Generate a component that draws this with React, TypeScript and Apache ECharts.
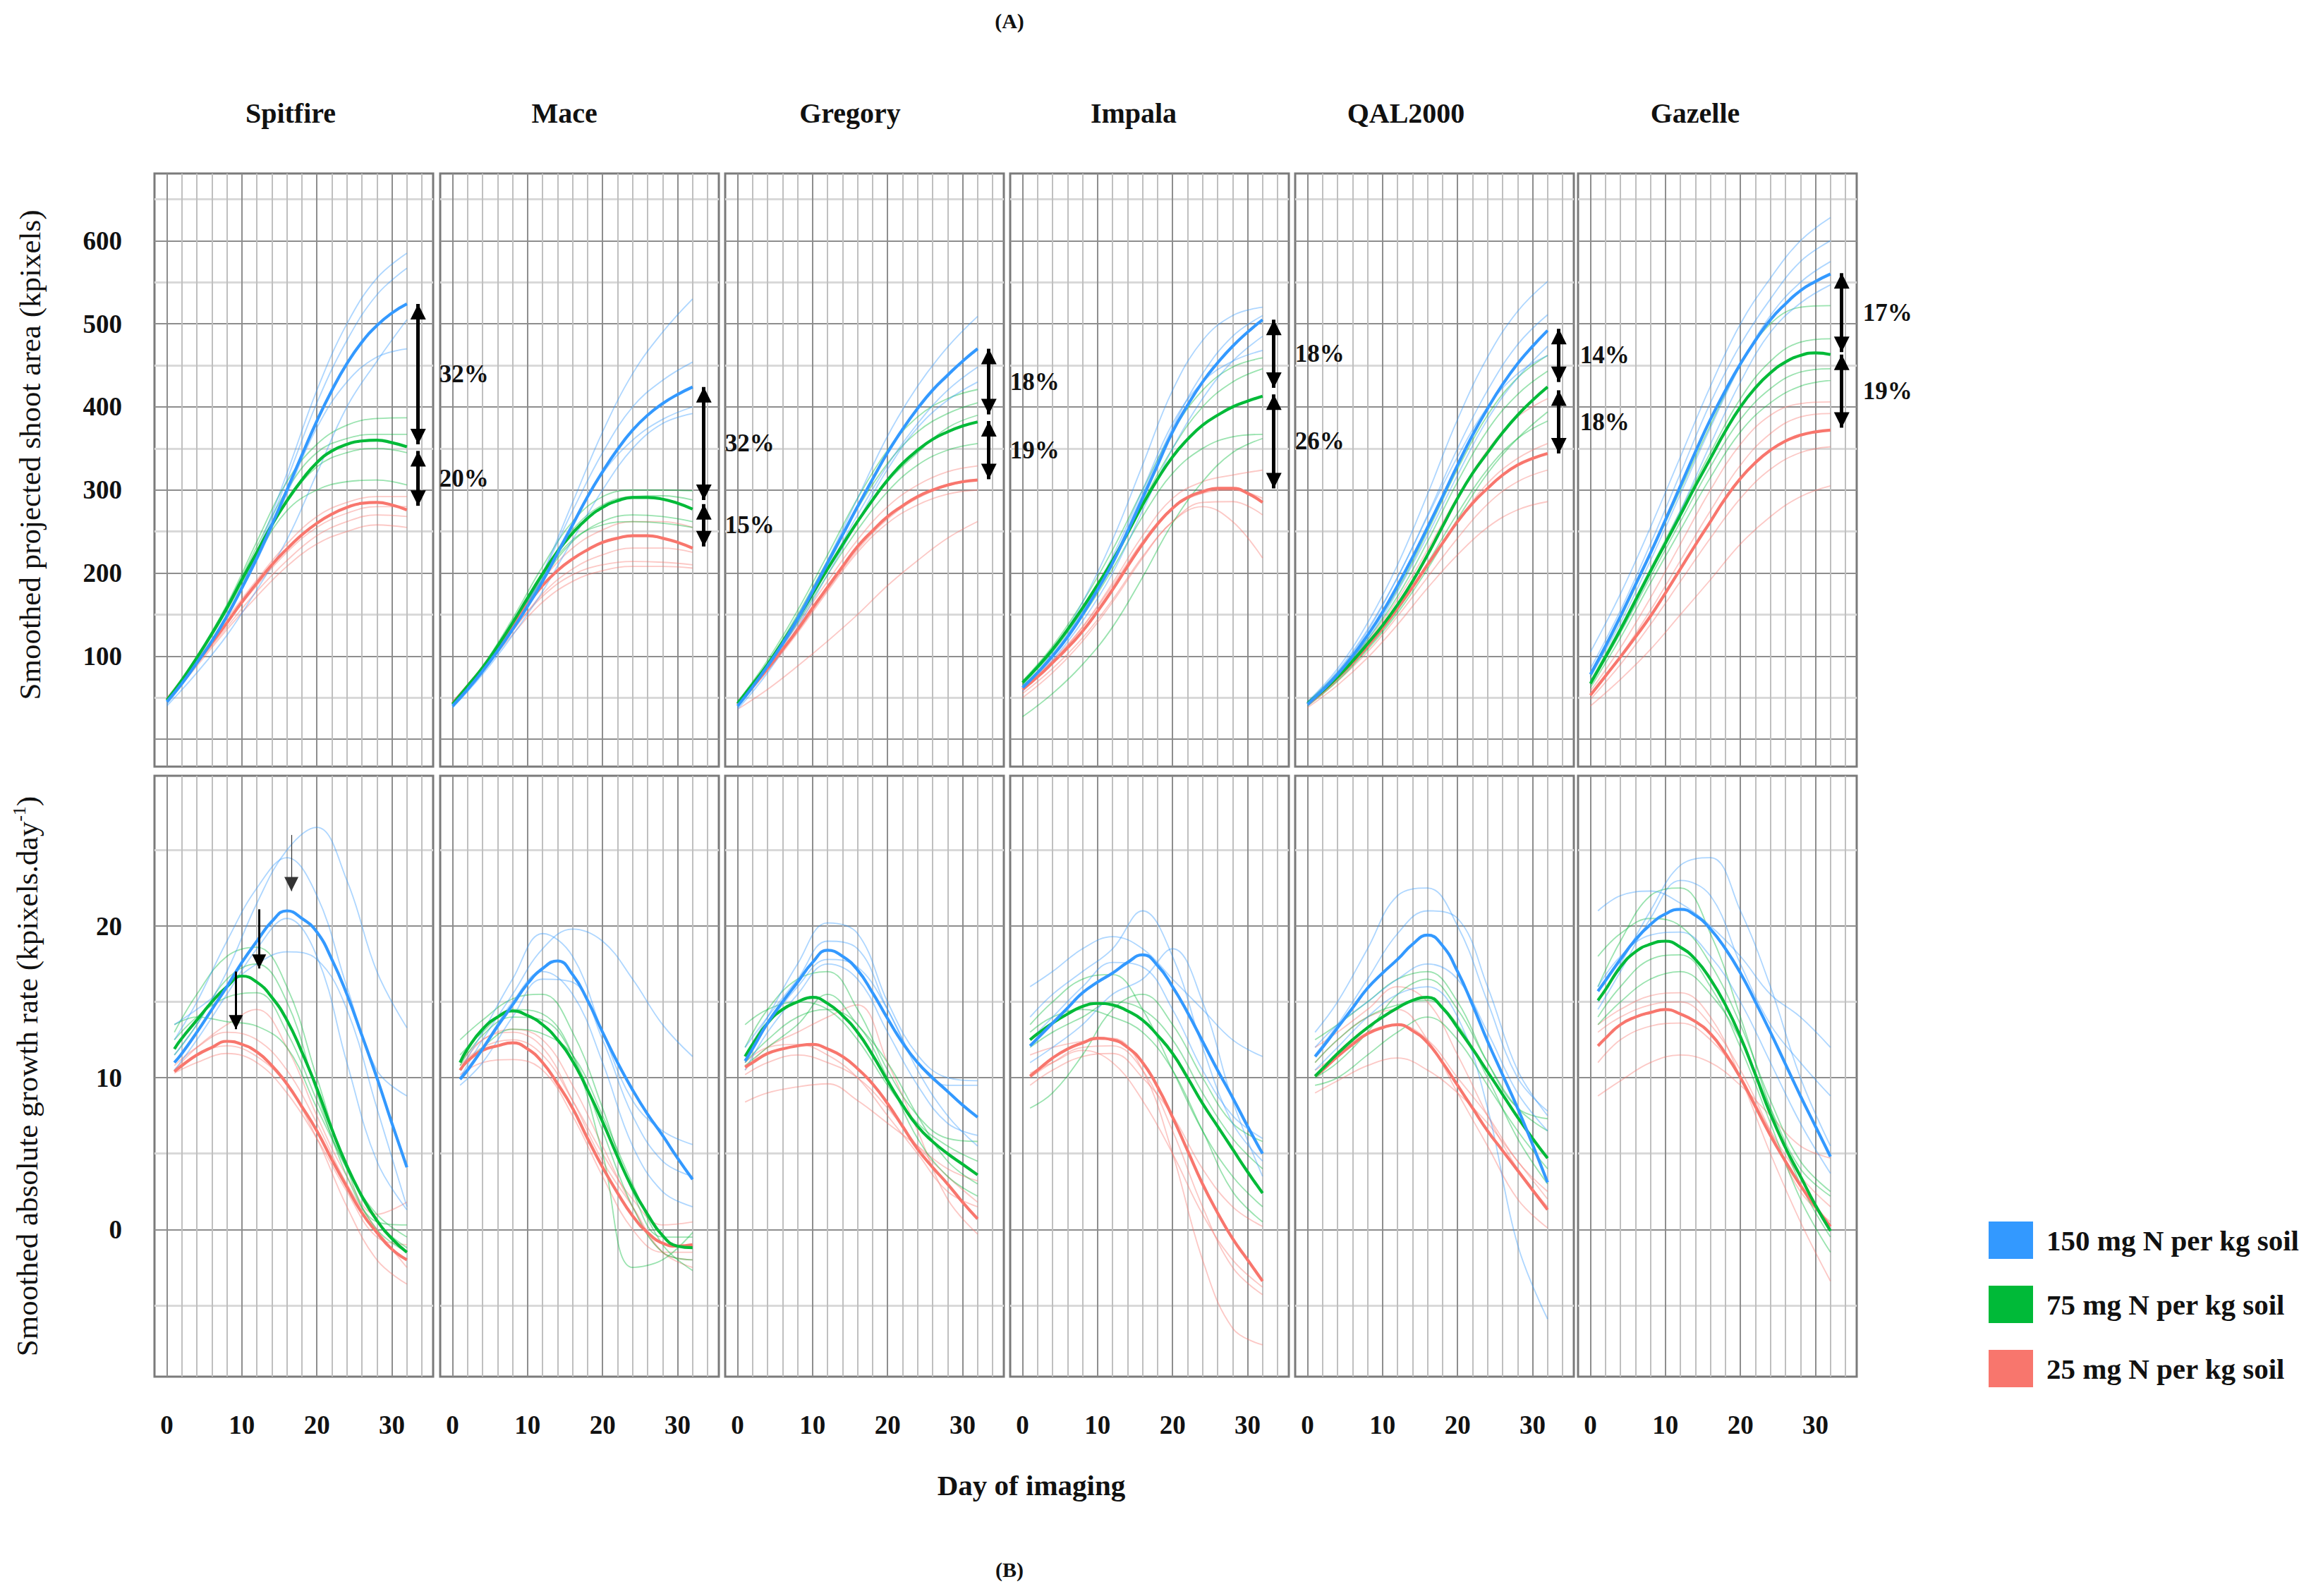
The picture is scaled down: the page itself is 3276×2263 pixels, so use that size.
import React, { useEffect, useRef } from "react";
import * as echarts from "echarts";

// ---------------- data ----------------
const CULTIVARS = ["Spitfire", "Mace", "Gregory", "Impala", "QAL2000", "Gazelle"];
const TREATMENTS = ["150 mg N per kg soil", "75 mg N per kg soil", "25 mg N per kg soil"];
// days at which the treatment means are read
const AREA_MEAN_DAYS = [0, 2, 4, 6, 8, 10, 12, 14, 16, 18, 20, 22, 24, 26, 28, 30, 32];
const RATE_MEAN_DAYS = [1, 2, 4, 6, 8, 10, 12, 14, 16, 18, 20, 22, 24, 26, 28, 30, 32];
// days at which the individual plant curves are read
const AREA_DAYS = [0, 4, 8, 12, 16, 20, 24, 28, 32];
const RATE_DAYS = [1, 4, 8, 12, 16, 20, 24, 28, 32];
const DAY_TICKS = [0, 10, 20, 30];
const AREA_TICKS = [100, 200, 300, 400, 500, 600];
const RATE_TICKS = [0, 10, 20];
const DAY_GRID_MAJOR = [0, 10, 20, 30];
const DAY_GRID_MINOR = [2, 4, 6, 8, 12, 14, 16, 18, 22, 24, 26, 28, 32, 34];
const AREA_GRID_MAJOR = [0, 100, 200, 300, 400, 500, 600];
const AREA_GRID_MINOR = [50, 150, 250, 350, 450, 550, 650];
const RATE_GRID_MAJOR = [0, 10, 20];
const RATE_GRID_MINOR = [-5, 5, 15, 25];

// Smoothed projected shoot area (kpixels): means for [150, 75, 25]
const SPITFIRE_AREA_MEAN = [
  [45, 67, 92, 118, 148, 182, 218, 258, 300, 342, 383, 420, 452, 478, 498, 513, 524],
  [47, 71, 98, 127, 158, 192, 225, 258, 287, 312, 333, 347, 355, 359, 360, 357, 352],
  [47, 68, 92, 116, 140, 165, 188, 210, 229, 246, 260, 271, 279, 284, 285, 282, 276],
];
const SPITFIRE_AREA_REPS = [
  [[42, 90, 148, 225, 320, 420, 500, 555, 585], [45, 92, 150, 222, 312, 405, 480, 535, 567], [40, 80, 125, 180, 240, 320, 400, 455, 505], [45, 92, 148, 215, 295, 375, 430, 460, 470]],
  [[48, 100, 162, 238, 310, 355, 378, 386, 387], [47, 99, 160, 232, 300, 345, 362, 367, 367], [46, 96, 155, 225, 285, 328, 345, 350, 345], [47, 97, 155, 220, 275, 300, 310, 312, 306]],
  [[50, 95, 145, 192, 235, 268, 285, 292, 292], [48, 92, 140, 185, 225, 255, 272, 280, 280], [46, 90, 135, 178, 215, 245, 262, 270, 268], [45, 88, 132, 172, 208, 235, 250, 258, 255]],
];
const MACE_AREA_MEAN = [
  [40, 60, 82, 106, 132, 160, 190, 224, 258, 292, 322, 349, 372, 390, 404, 415, 424],
  [42, 64, 86, 112, 140, 170, 199, 226, 248, 266, 279, 287, 291, 291, 289, 284, 277],
  [43, 64, 85, 110, 137, 162, 185, 203, 217, 228, 237, 242, 245, 245, 242, 237, 230],
];
const MACE_AREA_REPS = [
  [[38, 80, 132, 200, 285, 370, 440, 490, 530], [40, 84, 138, 200, 275, 345, 400, 432, 454], [42, 85, 138, 195, 260, 320, 360, 385, 400], [38, 78, 125, 178, 240, 300, 350, 380, 392]],
  [[43, 88, 145, 208, 262, 292, 300, 300, 299], [42, 86, 140, 200, 252, 282, 292, 293, 288], [41, 84, 136, 192, 238, 262, 270, 268, 262], [42, 85, 138, 195, 240, 258, 262, 260, 255]],
  [[45, 88, 140, 192, 230, 252, 262, 262, 255], [44, 86, 132, 172, 198, 210, 214, 213, 210], [42, 82, 126, 165, 190, 203, 208, 208, 206], [43, 84, 130, 175, 205, 222, 230, 230, 225]],
];
const GREGORY_AREA_MEAN = [
  [40, 63, 88, 115, 145, 178, 212, 246, 280, 313, 345, 373, 398, 420, 438, 455, 470],
  [43, 66, 90, 117, 145, 175, 205, 234, 262, 288, 312, 332, 348, 361, 370, 377, 382],
  [42, 63, 85, 108, 132, 158, 183, 208, 232, 251, 268, 281, 292, 300, 306, 310, 312],
];
const GREGORY_AREA_REPS = [
  [[38, 86, 145, 215, 290, 365, 425, 472, 509], [40, 85, 140, 205, 270, 330, 380, 420, 448], [42, 90, 148, 215, 282, 345, 400, 440, 470], [36, 80, 135, 198, 262, 325, 375, 408, 430]],
  [[45, 95, 155, 222, 290, 348, 388, 410, 421], [44, 92, 150, 215, 278, 332, 370, 392, 405], [42, 88, 140, 198, 252, 298, 330, 348, 356], [43, 90, 145, 205, 262, 310, 345, 375, 390]],
  [[42, 88, 138, 190, 240, 280, 306, 322, 329], [40, 82, 128, 178, 225, 260, 282, 295, 300], [36, 60, 88, 118, 150, 185, 215, 242, 262], [41, 84, 130, 180, 228, 265, 290, 305, 312]],
];
const IMPALA_AREA_MEAN = [
  [62, 80, 100, 123, 150, 180, 212, 250, 290, 330, 370, 402, 430, 453, 473, 490, 505],
  [68, 87, 108, 132, 158, 186, 215, 248, 282, 313, 340, 361, 378, 390, 400, 407, 413],
  [60, 75, 92, 110, 130, 154, 180, 208, 235, 259, 278, 291, 298, 302, 302, 296, 285],
];
const IMPALA_AREA_REPS = [
  [[60, 105, 165, 240, 330, 420, 480, 510, 520], [62, 100, 150, 215, 295, 375, 440, 485, 510], [58, 95, 142, 200, 275, 350, 410, 455, 485], [64, 102, 155, 220, 300, 380, 430, 455, 468]],
  [[70, 112, 165, 228, 300, 370, 420, 448, 459], [66, 105, 155, 215, 285, 350, 400, 430, 446], [64, 100, 148, 205, 268, 320, 350, 364, 367], [27, 55, 90, 135, 195, 260, 310, 345, 362]],
  [[58, 92, 135, 188, 245, 290, 310, 318, 324], [55, 85, 122, 168, 220, 262, 285, 286, 270], [50, 80, 118, 165, 218, 262, 280, 262, 218], [62, 95, 135, 185, 238, 278, 296, 300, 290]],
];
const QAL2000_AREA_MEAN = [
  [42, 59, 78, 100, 125, 153, 185, 219, 255, 292, 330, 366, 398, 427, 452, 473, 492],
  [43, 58, 75, 94, 115, 137, 162, 190, 222, 256, 290, 320, 345, 369, 390, 408, 424],
  [42, 57, 74, 92, 112, 134, 158, 183, 210, 236, 262, 284, 302, 318, 330, 338, 344],
];
const QAL2000_AREA_REPS = [
  [[45, 85, 140, 210, 295, 385, 460, 515, 551], [42, 80, 130, 195, 270, 350, 420, 475, 511], [40, 75, 120, 178, 245, 318, 385, 435, 473], [44, 82, 132, 195, 268, 340, 400, 440, 462]],
  [[45, 80, 125, 180, 250, 325, 390, 435, 462], [44, 78, 120, 172, 238, 310, 372, 415, 443], [40, 70, 108, 152, 205, 265, 320, 362, 394], [42, 72, 110, 155, 212, 272, 325, 362, 383]],
  [[44, 78, 118, 168, 228, 292, 348, 388, 410], [42, 74, 112, 158, 210, 262, 308, 338, 356], [40, 70, 105, 148, 195, 242, 283, 310, 324], [38, 65, 98, 138, 182, 222, 255, 276, 286]],
];
const GAZELLE_AREA_MEAN = [
  [78, 112, 148, 186, 224, 264, 305, 346, 385, 420, 452, 480, 505, 524, 540, 551, 560],
  [67, 99, 132, 167, 202, 236, 270, 305, 338, 371, 400, 423, 441, 454, 462, 465, 463],
  [53, 76, 99, 123, 148, 176, 205, 234, 262, 290, 314, 333, 348, 359, 366, 370, 372],
];
const GAZELLE_AREA_REPS = [
  [[105, 175, 255, 340, 425, 500, 555, 600, 628], [85, 155, 235, 320, 405, 475, 530, 575, 600], [75, 140, 215, 295, 375, 450, 510, 550, 575], [70, 130, 200, 275, 355, 430, 490, 525, 547]],
  [[75, 145, 222, 300, 378, 450, 500, 520, 522], [70, 135, 205, 275, 345, 410, 455, 478, 482], [65, 128, 195, 262, 328, 385, 422, 442, 446], [62, 122, 188, 252, 315, 370, 405, 425, 432]],
  [[58, 110, 170, 235, 300, 355, 390, 404, 406], [52, 100, 155, 215, 275, 330, 368, 388, 392], [48, 90, 138, 190, 242, 290, 325, 345, 352], [40, 72, 108, 150, 192, 235, 268, 292, 305]],
];

// Smoothed absolute growth rate (kpixels.day-1)
const SPITFIRE_RATE_MEAN = [
  [11.0, 11.6, 13.0, 14.5, 16.0, 17.6, 19.0, 20.3, 21.0, 20.5, 19.6, 17.8, 15.5, 12.8, 10.0, 7.0, 4.1],
  [11.9, 12.6, 13.8, 15.0, 16.0, 16.7, 16.3, 15.3, 13.8, 11.7, 9.3, 6.6, 4.2, 2.2, 0.6, -0.6, -1.5],
  [10.4, 10.8, 11.5, 12.0, 12.4, 12.2, 11.7, 10.8, 9.6, 8.1, 6.5, 4.6, 2.8, 1.1, -0.2, -1.3, -2.0],
];
const SPITFIRE_RATE_REPS = [
  [[11.5, 13.5, 17, 21.5, 25, 26.5, 23, 17, 13.3], [12.5, 15, 19, 22.5, 24.5, 22, 16, 10.5, 8.8], [10.5, 12.5, 15.5, 18.5, 20.5, 18, 11, 4.5, 1.3], [13.5, 14.5, 16, 17.5, 18.3, 17.8, 14.5, 8, 1.5]],
  [[13, 15.5, 18, 18.6, 16, 10, 4, 0.5, 0.3], [12.5, 14, 15.3, 15.6, 13, 8.5, 4, 1, -0.5], [13.5, 14, 13.7, 13.4, 12, 8, 4, 0.5, -1.2], [11.5, 13.5, 16.5, 17.5, 15, 9, 3.5, 0, -1.5]],
  [[10.5, 12, 13.5, 14.5, 12, 7.5, 3.5, 1, 1.8], [10.3, 11, 11.6, 11, 9, 6, 2.5, -0.5, -1], [10.5, 11.5, 12.1, 11.4, 9.5, 6, 1.5, -2, -3.6], [10.8, 12, 13, 12.5, 10.5, 7, 3, 0, -2.5]],
];
const MACE_RATE_MEAN = [
  [9.9, 10.5, 11.9, 13.4, 14.8, 16.2, 17.2, 17.7, 16.8, 15.1, 13.0, 11.0, 9.2, 7.6, 6.2, 4.7, 3.3],
  [11.0, 11.9, 13.2, 14.0, 14.4, 14.1, 13.5, 12.5, 11.1, 9.2, 7.1, 4.8, 2.7, 1.0, -0.4, -1.1, -1.2],
  [10.5, 11.1, 11.8, 12.1, 12.3, 11.9, 11.0, 9.6, 8.0, 6.0, 4.1, 2.4, 0.9, -0.2, -0.9, -1.1, -1.0],
];
const MACE_RATE_REPS = [
  [[10, 12.5, 15.5, 18.5, 19.8, 19, 16.5, 13.5, 11.4], [10.5, 13, 16.5, 19.5, 18, 13, 8.5, 6.5, 5.6], [10, 12, 15, 17, 15.5, 11, 5.5, 2.5, 1.5], [9.5, 11, 14, 16.5, 16.3, 12.5, 7.5, 4.5, 3.5]],
  [[12.5, 13.8, 15.2, 15.5, 13, 8, 2.5, -0.5, -0.5], [11.5, 13, 14.5, 14.2, 11.5, 5, -2.5, -2, -0.2], [10.5, 12, 13.2, 12.9, 11.5, 7.5, 3, -1, -2.7], [10.8, 12.8, 14, 13.8, 11.5, 6.5, 1.5, -1.5, -2]],
  [[10.5, 12.5, 13, 12, 8.5, 4.5, 1.5, -1.5, -2.5], [10.2, 11, 11.2, 10.5, 7.5, 3.5, 0, -1.5, -1.5], [11, 12.5, 13.2, 12.5, 9.5, 5.5, 1.5, -1.5, -2], [10.8, 12, 12.5, 11.5, 8.5, 5, 2, 0.3, 0.5]],
];
const GREGORY_RATE_MEAN = [
  [11.1, 11.9, 13.6, 15.0, 16.3, 17.6, 18.4, 18.0, 17.1, 15.6, 13.9, 12.3, 11.0, 10.0, 9.1, 8.2, 7.4],
  [11.4, 12.2, 13.6, 14.5, 15.0, 15.3, 14.9, 14.1, 13.0, 11.5, 9.8, 8.2, 6.8, 5.8, 5.0, 4.3, 3.6],
  [10.7, 11.0, 11.6, 11.9, 12.1, 12.2, 11.9, 11.4, 10.6, 9.6, 8.3, 6.8, 5.3, 4.1, 3.0, 1.8, 0.7],
];
const GREGORY_RATE_REPS = [
  [[11.5, 14, 17.5, 20.2, 19.5, 15, 11.5, 10, 9.8], [12, 14, 16.5, 19, 18.5, 14.5, 11, 9.5, 9.5], [10.5, 13, 15.5, 17.5, 16.5, 13, 9.5, 7, 6.2], [11, 13.5, 16, 17.8, 17.3, 14.5, 10.5, 7.5, 5.5]],
  [[12, 14.5, 16.5, 17, 14.5, 10.5, 7.5, 6, 5.8], [13.5, 14.5, 15, 14.5, 12.5, 9.5, 7, 5.5, 4.5], [11, 12.5, 14, 14.5, 13.5, 10, 6, 3.5, 2.2], [10.8, 12, 13.5, 15.5, 13.5, 11, 7.5, 4.5, 3]],
  [[8.4, 9, 9.4, 9.6, 8.5, 7, 5.5, 4, 3.2], [10.5, 12, 13, 14, 14.8, 11, 6.5, 2, -0.3], [11, 12, 12.2, 11.5, 10, 7.5, 5, 2.5, 1.5], [10.2, 11, 11.5, 11, 10, 8, 5.5, 3.5, 1.8]],
];
const IMPALA_RATE_MEAN = [
  [12.1, 12.6, 13.6, 14.6, 15.6, 16.3, 16.9, 17.6, 18.1, 17.4, 16.0, 14.3, 12.4, 10.5, 8.7, 6.8, 5.0],
  [12.5, 12.9, 13.6, 14.2, 14.7, 14.9, 14.8, 14.4, 13.8, 12.8, 11.6, 10.0, 8.3, 6.8, 5.3, 3.8, 2.4],
  [10.1, 10.5, 11.3, 11.9, 12.3, 12.6, 12.5, 12.0, 11.0, 9.4, 7.4, 5.2, 3.0, 1.1, -0.6, -2.0, -3.4],
];
const IMPALA_RATE_REPS = [
  [[14, 15.5, 17, 18.5, 21, 18, 12, 7, 4.5], [16, 17, 18.5, 19.3, 18.5, 16.5, 14.5, 12.5, 11.4], [11, 12, 13.5, 15.5, 16.5, 18.5, 15, 8.5, 3.5], [12.5, 14, 16, 17.6, 17.3, 14.5, 10.5, 7.5, 6]],
  [[8, 9, 11.5, 14.5, 15.5, 13.5, 10, 7, 5.8], [13.5, 15, 16.5, 16.8, 14.5, 10.5, 6.5, 3.5, 1.5], [13, 14, 14.5, 14, 13, 10.5, 6.5, 2.5, 0.5], [12, 13, 14, 15, 14.5, 12.5, 9, 6, 4]],
  [[11.5, 12, 12.4, 12.6, 10.5, 5, -2, -6.5, -7.6], [10, 11, 12, 12.1, 10.5, 6.5, 1.5, -2.5, -4.3], [9.5, 10.5, 11.4, 11.6, 10, 7.5, 4, 1.5, 0.2], [10.3, 11, 11.8, 11, 8.5, 5, 1, -2, -3.8]],
];
const QAL2000_RATE_MEAN = [
  [11.4, 12.0, 13.3, 14.6, 15.9, 16.9, 17.8, 18.8, 19.4, 18.7, 17.0, 14.8, 12.4, 10.2, 8.0, 5.6, 3.1],
  [10.1, 10.6, 11.6, 12.5, 13.3, 14.0, 14.6, 15.1, 15.3, 14.6, 13.3, 11.9, 10.4, 8.9, 7.4, 6.0, 4.7],
  [10.1, 10.5, 11.4, 12.2, 12.9, 13.3, 13.5, 13.1, 12.3, 11.0, 9.5, 8.0, 6.5, 5.2, 3.9, 2.6, 1.3],
];
const QAL2000_RATE_REPS = [
  [[13, 15, 18.5, 22, 22.5, 20, 15, 10, 7.8], [11.5, 13.5, 16.5, 19.5, 21, 20.5, 16, 10.5, 7.5], [10.5, 12, 14, 15.5, 16, 14, 8, -1, -5.9], [12, 13.5, 15, 16.5, 17.5, 16.5, 13, 9, 6.5]],
  [[12.5, 13.5, 15, 16.5, 17, 15, 11, 8, 7.3], [10, 11, 13, 15.5, 16.5, 14.5, 11, 8, 6.5], [9.5, 10, 11.5, 13, 14, 12.5, 9.5, 6.5, 4], [11, 12.5, 14, 14.8, 15.1, 13.5, 10, 6, 3]],
  [[12, 13, 14.5, 16, 15, 11.5, 7.5, 4, 1.5], [9, 9.8, 10.8, 11.3, 10.5, 9, 7, 4.5, 2], [11, 12.5, 14, 14.5, 12.5, 9, 5.5, 2, 0.1], [10.5, 11.5, 13, 13.5, 12.5, 10, 7.5, 4.5, 2.5]],
];
const GAZELLE_RATE_MEAN = [
  [15.7, 16.4, 17.8, 19.1, 20.1, 20.8, 21.1, 20.7, 19.8, 18.5, 16.9, 15.0, 13.0, 10.9, 8.8, 6.8, 4.8],
  [15.1, 15.8, 17.3, 18.3, 18.8, 19.0, 18.6, 17.8, 16.5, 14.8, 12.7, 10.2, 7.6, 5.4, 3.5, 1.6, -0.1],
  [12.1, 12.6, 13.5, 14.0, 14.3, 14.5, 14.2, 13.7, 12.9, 11.6, 10.0, 8.1, 6.2, 4.5, 2.9, 1.5, 0.2],
];
const GAZELLE_RATE_REPS = [
  [[15, 17.5, 21, 24, 24.5, 21, 16, 10, 5.5], [21, 22, 22.3, 21.5, 20, 18, 15.5, 14, 12], [14.5, 17, 20.5, 23, 22, 17.5, 13.5, 11, 8.8], [16, 18, 19.4, 19.6, 18, 15, 11, 7, 3.7]],
  [[16, 19, 22, 22.5, 19.5, 14, 8, 3, -0.5], [18, 19.5, 20.5, 20, 17.5, 13.5, 8.5, 4.5, 2.5], [14, 16, 17.8, 18.1, 16, 12, 7, 2, -1.5], [13.5, 15, 16.5, 17, 15.5, 12.5, 8, 4, 2.2]],
  [[8.8, 9.8, 11, 11.5, 11, 9.5, 7.5, 5.5, 4.7], [13.5, 14.5, 15.4, 15.6, 14, 10, 5, 0.5, -3.4], [11, 12.5, 13.4, 13.6, 12.5, 10, 6.5, 3.5, 1.5], [13, 14, 14.8, 15, 13.5, 10.5, 6.5, 2.5, 0.5]],
];

// Double-headed arrows at day ARROW_DAY on the area panels: [from, to] in kpixels
const ARROW_DAY = 33.5;
const AREA_GAP_SPANS = [
  [[524, 355], [347, 281]],
  [[424, 288], [283, 232]],
  [[470, 391], [383, 313]],
  [[505, 423], [415, 302]],
  [[494, 430], [420, 344]],
  [[561, 466], [463, 375]],
];
const AREA_GAP_LABELS = [
  ["32%", "20%"],
  ["32%", "15%"],
  ["18%", "19%"],
  ["18%", "26%"],
  ["14%", "18%"],
  ["17%", "19%"],
];
// Peak arrows on Spitfire growth-rate panel: [day, from, to]
const PEAK_ARROWS = [
  [9.2, 17.0, 13.2],
  [12.3, 21.1, 17.2],
  [16.6, 26.0, 22.3],
];

const AREA_MEANS = [SPITFIRE_AREA_MEAN, MACE_AREA_MEAN, GREGORY_AREA_MEAN, IMPALA_AREA_MEAN, QAL2000_AREA_MEAN, GAZELLE_AREA_MEAN];
const AREA_REPS = [SPITFIRE_AREA_REPS, MACE_AREA_REPS, GREGORY_AREA_REPS, IMPALA_AREA_REPS, QAL2000_AREA_REPS, GAZELLE_AREA_REPS];
const RATE_MEANS = [SPITFIRE_RATE_MEAN, MACE_RATE_MEAN, GREGORY_RATE_MEAN, IMPALA_RATE_MEAN, QAL2000_RATE_MEAN, GAZELLE_RATE_MEAN];
const RATE_REPS = [SPITFIRE_RATE_REPS, MACE_RATE_REPS, GREGORY_RATE_REPS, IMPALA_RATE_REPS, QAL2000_RATE_REPS, GAZELLE_RATE_REPS];

// ---------------- layout & style ----------------
const W = 3276;
const H = 2263;
const FONT = '"Liberation Serif", "Times New Roman", serif';
const COLORS = ["#3399FF", "#00BA38", "#F8766D"];
const PANEL_LEFT = [219, 624, 1028, 1432, 1836, 2237];
const PANEL_WIDTH = 395;
const ROW_TOP = [246, 1100];
const ROW_HEIGHT = [841, 852];
const X_MIN = -1.65;
const X_MAX = 35.5;
const Y_RANGE = [[-33, 681], [-9.7, 29.9]];
const TITLE_X = [412, 800, 1205, 1607, 1993, 2403];
const MAJOR_LINE = "#8e8e8e";
const MINOR_X_LINE = "#bfbfbf";
const MINOR_Y_LINE = "#d9d9d9";

function pairs(days: number[], vals: number[]) {
  return vals.map((v, i) => [days[i], v]);
}

function buildOption() {
  const grid: any[] = [];
  const xAxis: any[] = [];
  const yAxis: any[] = [];
  const series: any[] = [];
  const tickText = { fontFamily: FONT, fontWeight: "bold", fontSize: 37, color: "#111" };

  for (let r = 0; r < 2; r++) {
    for (let c = 0; c < 6; c++) {
      const g = r * 6 + c;
      grid.push({
        left: PANEL_LEFT[c], top: ROW_TOP[r], width: PANEL_WIDTH, height: ROW_HEIGHT[r],
        show: true, borderColor: "#7a7a7a", borderWidth: 3, backgroundColor: "#fff",
        outerBoundsMode: "none",
      });
      xAxis.push({
        gridIndex: g, type: "value", position: "top", min: X_MIN, max: X_MAX,
        axisLine: { show: false }, axisTick: { show: false, customValues: DAY_GRID_MINOR },
        axisLabel: { show: false },
        splitLine: { show: true, lineStyle: { color: MINOR_X_LINE, width: 2 } },
      });
      xAxis.push({
        gridIndex: g, type: "value", position: "bottom", min: X_MIN, max: X_MAX,
        axisLine: { show: false }, axisTick: { show: false, customValues: DAY_GRID_MAJOR },
        axisLabel: r === 1 ? { show: true, customValues: DAY_TICKS, margin: 50, ...tickText } : { show: false },
        splitLine: { show: true, lineStyle: { color: MAJOR_LINE, width: 2 } },
      });
      const yMajor = r === 0 ? AREA_GRID_MAJOR : RATE_GRID_MAJOR;
      const yMinor = r === 0 ? AREA_GRID_MINOR : RATE_GRID_MINOR;
      const yLabels = r === 0 ? AREA_TICKS : RATE_TICKS;
      yAxis.push({
        gridIndex: g, type: "value", position: "right", min: Y_RANGE[r][0], max: Y_RANGE[r][1],
        axisLine: { show: false }, axisTick: { show: false, customValues: yMinor },
        axisLabel: { show: false },
        splitLine: { show: true, lineStyle: { color: MINOR_Y_LINE, width: 3 } },
      });
      yAxis.push({
        gridIndex: g, type: "value", position: "left", min: Y_RANGE[r][0], max: Y_RANGE[r][1],
        axisLine: { show: false }, axisTick: { show: false, customValues: yMajor },
        axisLabel: c === 0 ? { show: true, customValues: yLabels, margin: 46, ...tickText } : { show: false },
        splitLine: { show: true, lineStyle: { color: MAJOR_LINE, width: 2 } },
      });

      const repDays = r === 0 ? AREA_DAYS : RATE_DAYS;
      const meanDays = r === 0 ? AREA_MEAN_DAYS : RATE_MEAN_DAYS;
      const reps = r === 0 ? AREA_REPS[c] : RATE_REPS[c];
      const means = r === 0 ? AREA_MEANS[c] : RATE_MEANS[c];
      const axisIdx = 2 * g + 1;

      for (let t = 2; t >= 0; t--) {
        reps[t].forEach((rep: number[]) => {
          series.push({
            type: "line", name: TREATMENTS[t] + " plant", xAxisIndex: axisIdx, yAxisIndex: axisIdx,
            data: pairs(repDays, rep), smooth: 0.4, showSymbol: false, symbol: "none", silent: true, z: 2,
            lineStyle: { color: COLORS[t], width: 1.8, opacity: 0.4 },
          });
        });
      }
      for (let t = 2; t >= 0; t--) {
        const s: any = {
          type: "line", name: TREATMENTS[t], xAxisIndex: axisIdx, yAxisIndex: axisIdx,
          data: pairs(meanDays, means[t]), smooth: 0.5, showSymbol: false, symbol: "none", silent: true, z: 3,
          color: COLORS[t], itemStyle: { color: COLORS[t] },
          lineStyle: { color: COLORS[t], width: 4.2 },
        };
        if (t === 0 && r === 0) {
          s.markLine = {
            silent: true, symbol: ["triangle", "triangle"], symbolSize: 22,
            symbolOffset: [[0, 11], [0, 11]],
            label: { show: false },
            lineStyle: { color: "#000", width: 5, type: "solid" },
            data: AREA_GAP_SPANS[c].map(([a, b]) => [{ coord: [ARROW_DAY, a] }, { coord: [ARROW_DAY, b] }]),
          };
        }
        if (t === 0 && r === 1 && c === 0) {
          s.markLine = {
            silent: true, symbol: ["none", "triangle"], symbolSize: 20,
            symbolOffset: [[0, 0], [0, 10]],
            label: { show: false },
            lineStyle: { color: "#000", width: 3, type: "solid" },
            data: PEAK_ARROWS.map(([d, a, b], i) => [
              { coord: [d, a], lineStyle: i === 2 ? { width: 1.2, color: "#333" } : undefined },
              { coord: [d, b] },
            ]),
          };
        }
        series.push(s);
      }
    }
  }

  return {
    animation: false,
    backgroundColor: "#fff",
    textStyle: { fontFamily: FONT },
    grid, xAxis, yAxis, series,
    legend: {
      data: TREATMENTS, orient: "vertical", left: 2819, top: 1732,
      itemWidth: 63, itemHeight: 53, itemGap: 38, icon: "rect", selectedMode: false, padding: 0,
      textStyle: { fontFamily: FONT, fontWeight: "bold", fontSize: 41, color: "#111", padding: [0, 0, 0, 14] },
    },
  };
}

function textEl(x: number, y: number, text: string, font: string) {
  return {
    type: "text", x, y, silent: true,
    style: { text, font, fill: "#111", align: "center", verticalAlign: "middle" },
  };
}

function buildGraphics(chart: any) {
  const els: any[] = [];
  els.push(textEl(1431, 29, "(A)", `bold 30px ${FONT}`));
  els.push(textEl(1431, 2225, "(B)", `bold 30px ${FONT}`));
  els.push(textEl(1462, 2106, "Day of imaging", `bold 41px ${FONT}`));
  CULTIVARS.forEach((name, c) => els.push(textEl(TITLE_X[c], 160, name, `bold 40px ${FONT}`)));
  els.push({
    type: "text", x: 42, y: 645, rotation: Math.PI / 2, silent: true,
    style: { text: "Smoothed projected shoot area (kpixels)", font: `43px ${FONT}`, fill: "#111", align: "center", verticalAlign: "middle" },
  });
  els.push({
    type: "text", x: 38, y: 1526, rotation: Math.PI / 2, silent: true,
    style: {
      text: "{n|Smoothed absolute growth rate (kpixels.day}{s|-1}{n|)}",
      fill: "#111", align: "center", verticalAlign: "middle",
      rich: {
        n: { fontFamily: FONT, fontSize: 43, lineHeight: 48, fill: "#111" },
        s: { fontFamily: FONT, fontSize: 26, lineHeight: 48, verticalAlign: "top", fill: "#111" },
      },
    },
  });
  AREA_GAP_SPANS.forEach((spans, c) => {
    spans.forEach(([a, b], k) => {
      const p = chart.convertToPixel({ xAxisIndex: 2 * c + 1, yAxisIndex: 2 * c + 1 }, [ARROW_DAY, (a + b) / 2]);
      if (p) {
        els.push({
          type: "text", x: p[0] + 30, y: p[1], silent: true,
          style: { text: AREA_GAP_LABELS[c][k], font: `bold 35px ${FONT}`, fill: "#111", align: "left", verticalAlign: "middle" },
        });
      }
    });
  });
  return els;
}

export default function App() {
  const ref = useRef<HTMLDivElement>(null);
  useEffect(() => {
    document.body.style.margin = "0";
    const chart = echarts.init(ref.current!, null, { renderer: "svg" });
    chart.setOption(buildOption());
    chart.setOption({ graphic: buildGraphics(chart) });
    return () => chart.dispose();
  }, []);
  return <div ref={ref} style={{ width: W, height: H, background: "#fff" }} />;
}
